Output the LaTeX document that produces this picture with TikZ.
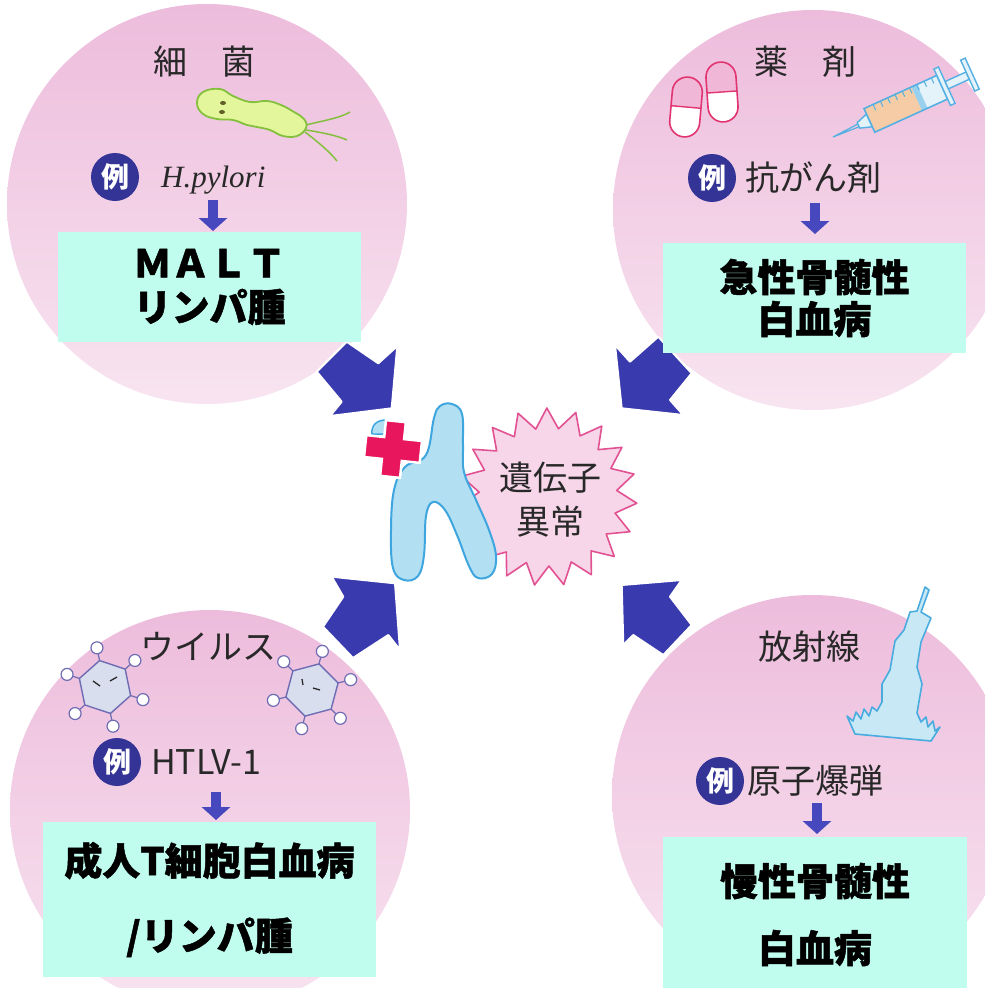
\documentclass[tikz,border=0pt]{standalone}
\usepackage{fontspec}
\newfontfamily\jp{Noto Sans CJK JP}
\newfontfamily\jpheavy[BoldFeatures={FakeBold=1.3}]{Noto Sans CJK JP}
\newfontfamily\latinserif{Liberation Serif}
\usetikzlibrary{arrows.meta,calc}

\definecolor{discTop}{RGB}{237,188,220}
\definecolor{discBot}{RGB}{248,228,240}
\definecolor{boxCyan}{RGB}{192,253,238}
\definecolor{inkGray}{RGB}{40,40,40}
\definecolor{badgeBlue}{RGB}{52,52,150}
\definecolor{smallBlue}{RGB}{72,72,190}
\definecolor{arrowBlue}{RGB}{58,58,175}
\definecolor{chromoFill}{RGB}{178,224,242}
\definecolor{chromoLine}{RGB}{62,165,222}
\definecolor{burstFill}{RGB}{246,214,232}
\definecolor{burstLine}{RGB}{226,82,146}
\definecolor{crossRed}{RGB}{232,22,92}
\definecolor{bactFill}{RGB}{228,246,155}
\definecolor{bactLine}{RGB}{132,192,62}
\definecolor{pillLine}{RGB}{226,52,112}
\definecolor{pillPink}{RGB}{240,184,214}
\definecolor{syrLine}{RGB}{84,176,226}
\definecolor{syrFill}{RGB}{228,242,250}
\definecolor{syrFluid}{RGB}{246,204,166}
\definecolor{virFill}{RGB}{216,222,238}
\definecolor{virLine}{RGB}{110,108,178}
\definecolor{boltFill}{RGB}{200,232,246}
\definecolor{boltLine}{RGB}{72,172,222}

% one virus: centre x, centre y, visual angle of the first spike
\newcommand\drawvirus[3]{%
  \begin{scope}[shift={(#1,#2)}]
    \foreach \k in {0,...,5}{
      \draw[virLine, line width=1.2pt] (-#3-60*\k:27) -- (-#3-60*\k:34);
      \filldraw[fill=white, draw=virLine, line width=1.2pt] (-#3-60*\k:40) circle (6);
    }
    \filldraw[fill=virFill, draw=virLine, line width=1.4pt, line join=round]
      (-#3:27) \foreach \k in {1,...,5}{ -- (-#3-60*\k:27) } -- cycle;
  \end{scope}}

\begin{document}
\begin{tikzpicture}[x=1pt, y=-1pt,
  disc/.style={circle, minimum size=400pt, inner sep=0pt, draw=none,
    top color=discTop, bottom color=discBot},
  result/.style={fill=boxCyan, draw=none, inner sep=0pt, align=center,
    font=\jpheavy\bfseries\fontsize{38}{44}\selectfont, text=black},
  title/.style={font=\jp\fontsize{34}{34}\selectfont, text=inkGray, inner sep=0pt},
  badge/.style={circle, fill=badgeBlue, text=white, minimum size=48pt, inner sep=0pt,
    font=\jp\bfseries\fontsize{28}{28}\selectfont},
  example/.style={font=\jp\fontsize{34}{34}\selectfont, text=inkGray, anchor=west, inner sep=0pt},
  downarrow/.style={draw=smallBlue, line width=10pt, -{Triangle[width=28pt,length=13pt]}},
  bigarrow/.style={fill=arrowBlue, draw=white, line width=2pt, line join=round},
]
\useasboundingbox (0,0) rectangle (985,988);
\clip (0,0) rectangle (985,988);
\fill[white] (0,0) rectangle (985,988);

% the four cause discs
\node[disc] (bacteria) at (207,204) {};
\node[disc] (drugs)    at (813,210) {};
\node[disc] (virus)    at (210,810) {};
\node[disc] (rays)     at (812,795) {};

% big arrows pointing at the centre
\filldraw[bigarrow] (316.7,371.7) -- (346.7,341.7) -- (378.3,363.3) -- (397.3,346)
  -- (391.7,408.3) -- (330,416) -- (341.7,401.7) -- cycle;
\filldraw[bigarrow] (615,345) -- (630,361.7) -- (658.3,336.7) -- (691.7,373.3)
  -- (670,400) -- (683.3,415) -- (621.7,408.3) -- cycle;
\filldraw[bigarrow] (331.7,576.7) -- (395,583.3) -- (400,650) -- (388.3,635)
  -- (353,658) -- (323,626.7) -- (343.3,596.7) -- cycle;
\filldraw[bigarrow] (621.7,585) -- (681.7,580) -- (670,596.7) -- (691.7,625)
  -- (663.3,655) -- (633.3,635) -- (623.3,645) -- cycle;

% burst with the central label
\filldraw[fill=burstFill, draw=burstLine, line width=1.6pt, line join=round]
  plot[samples at={0,...,37}, variable=\k]
  ({548+(isodd(\k)==1 ? 69 : 89)*cos(\k*360/38+4)}, {497+(isodd(\k)==1 ? 69 : 89)*sin(\k*360/38+4)}) -- cycle;
\node[font=\jp\fontsize{34}{44}\selectfont, text=inkGray, align=center] (gene) at (550,500) {遺伝子\\異常};

% chromosome
\filldraw[fill=chromoFill, draw=chromoLine, line width=2pt]
  plot[smooth cycle, tension=0.65] coordinates {
   (440,406) (452,404) (462,414) (463,445) (464,472) (476,500) (489,530) (496,556)
   (492,574) (478,578) (469,566) (457,535) (445,510) (433,502) (426,516) (424,555)
   (418,576) (404,580) (393,568) (391,530) (394,490) (405,467) (426,455) (434,418)};
% broken fragment and red cross
\filldraw[fill=chromoFill, draw=chromoLine, line width=1.5pt]
  (372,434) .. controls (371,425) and (377,420) .. (386,420) -- (386,434) -- cycle;
\begin{scope}[shift={(393,449)}, rotate=-6]
  \filldraw[fill=crossRed, draw=white, line width=2.5pt]
    (-10,-28) -- (10,-28) -- (10,-11) -- (28,-11) -- (28,11) -- (10,11) -- (10,28)
    -- (-10,28) -- (-10,11) -- (-28,11) -- (-28,-11) -- (-10,-11) -- cycle;
\end{scope}

% bacterium
\filldraw[fill=bactFill, draw=bactLine, line width=1.8pt]
  plot[smooth cycle, tension=0.7] coordinates {
   (203,92) (220,89) (233,96) (250,102) (267,101) (281,105) (294,112) (304,119)
   (306,128) (297,136) (283,136) (270,130) (257,127) (247,125) (233,120) (217,119)
   (203,114) (197,103)};
\draw[bactLine, line width=1.5pt] (306,125) .. controls (326,120) and (340,118) .. (350,112);
\draw[bactLine, line width=1.5pt] (306,130) .. controls (325,133) and (338,136) .. (347,140);
\draw[bactLine, line width=1.5pt] (305,132) .. controls (318,142) and (330,152) .. (337,161);
\fill[olive!60!black] (223,103) ellipse (3 and 2);
\fill[olive!60!black] (222,112) ellipse (3 and 2);

% capsules
\foreach \x/\y/\a in {671/77/-5, 707/62/4}{
  \begin{scope}[rotate around={\a:(\x+15,\y+30)}]
  \fill[white, rounded corners=15pt] (\x,\y) rectangle ++(30,60);
  \begin{scope}
    \clip (\x,\y) rectangle ++(30,30);
    \fill[pillPink, rounded corners=15pt] (\x,\y) rectangle ++(30,60);
  \end{scope}
  \draw[pillLine, line width=1.6pt, rounded corners=15pt] (\x,\y) rectangle ++(30,60);
  \draw[pillLine, line width=1.4pt] (\x,\y+30) -- ++(30,0);
  \end{scope}
}

% syringe
\begin{scope}[shift={(833,137)}, rotate=24.5]
  \draw[syrLine, line width=1.2pt] (0,0) -- (28,-1.5) (0,0) -- (28,1.5);
  \filldraw[fill=syrFill, draw=syrLine, line width=1.4pt] (28,-3) -- (40,-7) -- (40,7) -- (28,3) -- cycle;
  \fill[syrFill] (40,-13) rectangle (120,13);
  \fill[syrFluid] (40,-13) rectangle (92,13);
  \fill[syrLine!60] (92,-13) rectangle (98,13);
  \draw[syrLine, line width=1.6pt] (40,-13) rectangle (120,13);
  \foreach \u in {50,58,...,114}{ \draw[syrLine, line width=1pt] (\u,-13) -- (\u,-7); }
  \filldraw[fill=syrFill, draw=syrLine, line width=1.4pt] (120,-20) rectangle (125,20);
  \filldraw[fill=syrFill, draw=syrLine, line width=1.4pt] (125,-4) rectangle (148,4);
  \filldraw[fill=syrFill, draw=syrLine, line width=1.4pt] (148,-17) rectangle (153,17);
\end{scope}

% viruses
\drawvirus{105}{687}{101.6}
\drawvirus{312}{690}{75}
\draw[inkGray, line width=1.3pt] (93,681) -- (100,686) (110,681) -- (117,677);
\draw[inkGray, line width=1.3pt] (302,679) -- (303,685) (313,688) -- (320,690);

% lightning bolt
\filldraw[fill=boltFill, draw=boltLine, line width=1.6pt, line join=round]
  (925,587) -- (929,590) -- (921,612) -- (931,618) -- (921,642) -- (917,667) -- (922,684)
  -- (917,713) -- (921,722) -- (926,717) -- (928,727) -- (933,721) -- (935,731)
  -- (940,727) -- (931,741) -- (855,734) -- (847,716) -- (853,721) -- (856,712) -- (861,719)
  -- (864,709) -- (869,716) -- (872,707) -- (877,711) -- (882,702) -- (882,684) -- (890,670)
  -- (895,641) -- (904,630) -- (910,612) -- (917,611) -- cycle;

% titles
\node[title] (t1) at (204,62) {細　菌};
\node[title] (t2) at (805,62) {薬　剤};
\node[title] (t3) at (208,647) {ウイルス};
\node[title] (t4) at (809,647) {放射線};

% examples
\node[badge] (b1) at (115,177) {例};
\node[example, font=\latinserif\itshape\fontsize{31}{31}\selectfont] (e1) at (161,180) {H.pylori};
\node[badge] (b2) at (712,178) {例};
\node[example] (e2) at (745,178) {抗がん剤};
\node[badge] (b3) at (117,762) {例};
\node[example] (e3) at (151,762) {HTLV-1};
\node[badge] (b4) at (720,781) {例};
\node[example] (e4) at (747,781) {原子爆弾};

% resulting diseases
\node[result, minimum width=303pt, minimum height=110pt] (r1) at (209.5,287) {ＭＡＬＴ\\リンパ腫};
\node[result, minimum width=303pt, minimum height=110pt] (r2) at (814.5,298) {急性骨髄性\\[-2pt]白血病};
\node[result, minimum width=333pt, minimum height=155pt] (r3) at (209.5,899.5) {成人T細胞白血病\\[31pt]/リンパ腫};
\node[result, minimum width=304pt, minimum height=155pt] (r4) at (815,914.5) {慢性骨髄性\\[23pt]白血病};

% small arrows from example to result
\coordinate (d1s) at (213,200); \coordinate (d1e) at (213,231);
\coordinate (d2s) at (815,203); \coordinate (d2e) at (815,234);
\coordinate (d3s) at (216,792); \coordinate (d3e) at (216,820);
\coordinate (d4s) at (817,803); \coordinate (d4e) at (817,834);
\foreach \i in {1,...,4}{ \draw[downarrow] (d\i s) -- (d\i e); }
\end{tikzpicture}
\end{document}
